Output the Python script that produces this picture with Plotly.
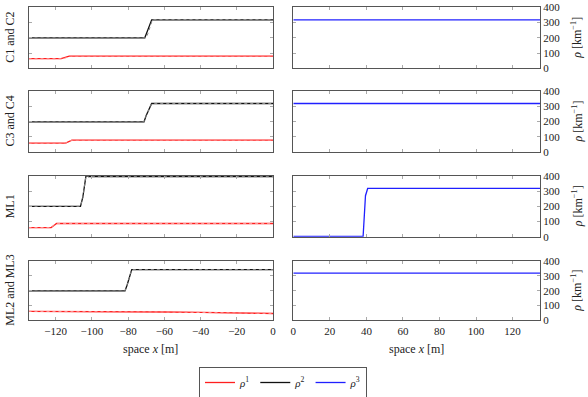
import plotly.graph_objects as go

# ---- data (breakpoints) ----
row_labels = ["C1 and C2", "C3 and C4", "ML1", "ML2 and ML3"]
x_ticks_left = [-120, -100, -80, -60, -40, -20, 0]
x_ticks_right = [0, 20, 40, 60, 80, 100, 120]
y_ticks = [0, 100, 200, 300, 400]

# rho1 (red) left panels, solid and dotted scenarios
r1_x = [[-135, -117, -112.5, 0], [-135, -114.5, -111, 0], [-135, -122.5, -119.5, 0],
        [-135, -100, -80, -60, -40, -20, 0]]
r1_y = [[63, 63, 80, 80], [58, 58, 78, 78], [60, 60, 87, 87],
        [60, 60, 59, 56, 53, 50, 46]]
r1d_x = [[-135, -116, -114, -113, -111, 0], [-135, -114.5, -111, 0], [-135, -122.5, -119.5, 0],
         [-135, -100, -80, -60, -40, -20, 0]]
r1d_y = [[63, 63, 70, 84, 80, 80], [58, 58, 78, 78], [60, 60, 87, 87],
         [60, 60, 59, 56, 53, 50, 46]]

# rho2 (black) left panels
r2_x = [[-135, -70.8, -69.5, -67, 0], [-135, -71.2, -70, -67, 0], [-135, -106.3, -105, -103.2, -102, 0],
        [-135, -81.7, -80.5, -78, 0]]
r2_y = [[200, 200, 240, 318, 318], [198, 198, 240, 318, 318], [200, 200, 260, 406, 396, 396],
        [198, 198, 240, 342, 342]]
r2d_x = [[-135, -70, -69, -68, -66.5, 0], [-135, -71.2, -70, -67, 0], [-135, -106.3, -105, -103.2, -102, 0],
         [-135, -81.7, -80.5, -78, 0]]
r2d_y = [[200, 200, 230, 270, 320, 320], [198, 198, 240, 318, 318], [200, 200, 260, 406, 396, 396],
         [198, 198, 240, 342, 342]]

# rho3 (blue) right panels
r3_x = [[0, 135], [0, 135], [0, 38.2, 39.5, 40.7, 135], [0, 135]]
r3_y = [[318, 318], [318, 318], [2, 2, 270, 318, 318], [318, 318]]

# ---- layout geometry ----
W, H = 588, 397
left_dom = [28.5 / W, 273 / W]
right_dom = [293.3 / W, 540 / W]
rows_px = [(7.3, 68.3), (91, 152), (176, 236.7), (261, 320.3)]
row_dom = [[1 - b / H, 1 - t / H] for t, b in rows_px]

FAM = "Liberation Serif"
font = dict(family=FAM, size=11, color="#222")
RED, BLACK, BLUE = "#ff1f1f", "#111111", "#2020ff"

fig = go.Figure()
layout = dict(width=W, height=H, margin=dict(l=0, r=0, t=0, b=0, pad=0, autoexpand=False),
              paper_bgcolor="white", plot_bgcolor="white", font=font)

for i in range(4):
    lx = "x%d" % (2 * i + 1)
    ly = "y%d" % (2 * i + 1)
    rx = "x%d" % (2 * i + 2)
    ry = "y%d" % (2 * i + 2)
    fig.add_trace(go.Scatter(x=r1_x[i], y=r1_y[i], mode="lines", line=dict(color=RED, width=1.3),
                             xaxis=lx, yaxis=ly, name="<i>ρ</i><sup>1</sup>", showlegend=(i == 0),
                             legendrank=1))
    fig.add_trace(go.Scatter(x=r1d_x[i], y=r1d_y[i], mode="lines",
                             line=dict(color="#ff9090", width=1, dash="dot"),
                             xaxis=lx, yaxis=ly, showlegend=False))
    fig.add_trace(go.Scatter(x=r2_x[i], y=r2_y[i], mode="lines", line=dict(color=BLACK, width=1.3),
                             xaxis=lx, yaxis=ly, name="<i>ρ</i><sup>2</sup>", showlegend=(i == 0),
                             legendrank=2))
    fig.add_trace(go.Scatter(x=r2d_x[i], y=r2d_y[i], mode="lines",
                             line=dict(color="#888888", width=1, dash="dot"),
                             xaxis=lx, yaxis=ly, showlegend=False))
    fig.add_trace(go.Scatter(x=r3_x[i], y=r3_y[i], mode="lines", line=dict(color=BLUE, width=1.3),
                             xaxis=rx, yaxis=ry, name="<i>ρ</i><sup>3</sup>", showlegend=(i == 0),
                             legendrank=3))

    common = dict(showline=True, linecolor="#555", linewidth=1, mirror="allticks",
                  ticks="inside", ticklen=3, tickcolor="#aaa", showgrid=False, zeroline=False,
                  tickfont=font, automargin=False)
    last = (i == 3)
    layout["xaxis%d" % (2 * i + 1)] = dict(common, domain=left_dom, anchor=ly, range=[-135, 0],
                                             tickvals=x_ticks_left, showticklabels=last,
                                             ticktext=["−120", "−100", "−80", "−60", "−40", "−20", "0"])
    layout["yaxis%d" % (2 * i + 1)] = dict(common, domain=row_dom[i], anchor=lx, range=[0, 400],
                                             tickvals=y_ticks, showticklabels=False)
    layout["xaxis%d" % (2 * i + 2)] = dict(common, domain=right_dom, anchor=ry, range=[0, 135],
                                             tickvals=x_ticks_right, showticklabels=last)
    layout["yaxis%d" % (2 * i + 2)] = dict(common, domain=row_dom[i], anchor=rx, range=[0, 400],
                                             tickvals=y_ticks, showticklabels=True, side="right")

fig.update_layout(**layout)

ann = []
for i in range(4):
    yc = (row_dom[i][0] + row_dom[i][1]) / 2
    ann.append(dict(text=row_labels[i], x=10 / W, y=yc, xref="paper", yref="paper",
                    xanchor="center", yanchor="middle",
                    textangle=-90, showarrow=False, font=dict(font, size=12)))
    ann.append(dict(text="<i>ρ</i> [km<sup>−1</sup>]", x=577 / W, y=yc, xref="paper", yref="paper",
                    xanchor="center", yanchor="middle",
                    textangle=-90, showarrow=False, font=dict(font, size=12)))
for xc in [(left_dom[0] + left_dom[1]) / 2, (right_dom[0] + right_dom[1]) / 2]:
    ann.append(dict(text="space <i>x</i> [m]", x=xc, y=1 - 349 / H, xref="paper", yref="paper",
                    xanchor="center", yanchor="middle",
                    showarrow=False, font=dict(font, size=12)))
fig.update_layout(annotations=ann)

fig.update_layout(legend=dict(orientation="h", x=283 / W, xanchor="center", y=1 - 367 / H,
                              yanchor="top", bordercolor="#555", borderwidth=1,
                              font=dict(font, size=11), itemwidth=30, tracegroupgap=0))

fig.write_html("out.html", config={"displayModeBar": False},
               post_script="document.body.style.margin='0';document.body.style.overflow='hidden';")
